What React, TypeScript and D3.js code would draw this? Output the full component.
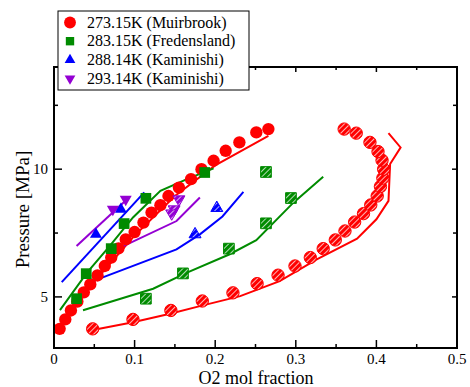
import React from "react";
import * as d3 from "d3";

// 273.15 K, Muirbrook
const muirLowPts: [number, number][] = [
  [0.007, 3.75], [0.014, 4.12], [0.021, 4.47], [0.029, 4.82], [0.037, 5.18],
  [0.045, 5.49], [0.054, 5.84], [0.063, 6.21], [0.071, 6.54], [0.08, 6.9],
  [0.089, 7.25], [0.1, 7.54], [0.111, 7.91], [0.121, 8.3], [0.132, 8.59],
  [0.142, 8.95], [0.155, 9.28], [0.17, 9.61], [0.183, 10.0], [0.198, 10.33],
  [0.213, 10.72], [0.23, 11.05], [0.251, 11.44], [0.266, 11.57],
];
const muirLowFit: [number, number][] = [
  [0.005, 3.7], [0.05, 5.6], [0.1, 7.4], [0.15, 8.95], [0.2, 10.15], [0.266, 11.3],
];
const muirHighPts: [number, number][] = [
  [0.048, 3.75], [0.098, 4.12], [0.145, 4.47], [0.184, 4.84], [0.222, 5.16],
  [0.252, 5.52], [0.278, 5.85], [0.299, 6.21], [0.318, 6.54], [0.334, 6.89],
  [0.349, 7.23], [0.361, 7.58], [0.373, 7.93], [0.384, 8.26], [0.393, 8.6],
  [0.401, 8.95], [0.405, 9.32], [0.408, 9.65], [0.409, 10.0], [0.407, 10.35],
  [0.402, 10.69], [0.392, 11.05], [0.375, 11.41], [0.36, 11.57],
];
const muirHighFit: [number, number][] = [
  [0.053, 3.73], [0.098, 4.01], [0.144, 4.34], [0.181, 4.64], [0.231, 5.03],
  [0.28, 5.62], [0.326, 6.47], [0.376, 7.28], [0.4, 8.04], [0.415, 8.76],
  [0.417, 10.2], [0.43, 10.85], [0.415, 11.41],
];

// 283.15 K, Fredensland
const fredLowPts: [number, number][] = [
  [0.028, 4.93], [0.04, 5.91], [0.071, 6.89], [0.087, 7.87], [0.114, 8.86], [0.187, 9.87],
];
const fredLowFit: [number, number][] = [
  [0.0074, 4.48], [0.041, 5.95], [0.069, 6.99], [0.098, 8.11], [0.132, 9.15],
  [0.165, 9.61], [0.198, 10.03],
];
const fredHighPts: [number, number][] = [
  [0.114, 4.93], [0.16, 5.92], [0.217, 6.89], [0.263, 7.88], [0.294, 8.87], [0.263, 9.89],
];
const fredHighFit: [number, number][] = [
  [0.036, 4.48], [0.123, 5.32], [0.165, 5.95], [0.218, 6.67], [0.251, 7.22],
  [0.297, 8.69], [0.334, 9.7],
];

// 288.14 K, Kaminishi
const kam288LowPts: [number, number][] = [[0.052, 7.45], [0.083, 8.43]];
const kam288LowFit: [number, number][] = [[0.0096, 5.58], [0.112, 9.09]];
const kam288HighPts: [number, number][] = [[0.175, 7.45], [0.202, 8.48]];
const kam288HighFit: [number, number][] = [
  [0.045, 5.58], [0.152, 6.86], [0.181, 7.45], [0.209, 8.15], [0.235, 9.11],
];

// 293.14 K, Kaminishi
const kam293LowPts: [number, number][] = [[0.073, 8.43], [0.089, 8.82]];
const kam293LowFit: [number, number][] = [[0.028, 6.99], [0.092, 8.86]];
const kam293HighPts: [number, number][] = [[0.155, 8.82], [0.149, 8.43], [0.146, 8.27]];
const kam293HighFit: [number, number][] = [[0.086, 6.99], [0.152, 7.97], [0.181, 8.89]];

const legendLabels = [
  "273.15K (Muirbrook)",
  "283.15K (Fredensland)",
  "288.14K (Kaminishi)",
  "293.14K (Kaminishi)",
];
const xTicks = [0, 0.1, 0.2, 0.3, 0.4, 0.5];
const xMinor = [0.05, 0.15, 0.25, 0.35, 0.45];
const yTicks = [5, 10];
const yMinor = [7.5, 12.5];

const RED = "#ff0000";
const GREEN = "#008b00";
const BLUE = "#0000ff";
const VIOLET = "#9400d3";

const W = 470;
const H = 387;
const left = 54, right = 457, top = 67, bottom = 348;

const x = d3.scaleLinear().domain([0, 0.5]).range([left, right]);
const y = d3.scaleLinear().domain([3, 14]).range([bottom, top]);
const line = d3.line<[number, number]>().x(d => x(d[0])).y(d => y(d[1]));

const circle = d3.symbol().type(d3.symbolCircle).size(120)()!;
const square = d3.symbol().type(d3.symbolSquare).size(115)()!;
const tri = d3.symbol().type(d3.symbolTriangle).size(62)()!;

type Series = {
  pts: [number, number][];
  fit: [number, number][];
  color: string;
  shape: string;
  rot: number;
  hatch: boolean;
  id: string;
};

const series: Series[] = [
  { pts: muirLowPts, fit: muirLowFit, color: RED, shape: circle, rot: 0, hatch: false, id: "r" },
  { pts: muirHighPts, fit: muirHighFit, color: RED, shape: circle, rot: 0, hatch: true, id: "r" },
  { pts: fredLowPts, fit: fredLowFit, color: GREEN, shape: square, rot: 0, hatch: false, id: "g" },
  { pts: fredHighPts, fit: fredHighFit, color: GREEN, shape: square, rot: 0, hatch: true, id: "g" },
  { pts: kam288LowPts, fit: kam288LowFit, color: BLUE, shape: tri, rot: 0, hatch: false, id: "b" },
  { pts: kam288HighPts, fit: kam288HighFit, color: BLUE, shape: tri, rot: 0, hatch: true, id: "b" },
  { pts: kam293LowPts, fit: kam293LowFit, color: VIOLET, shape: tri, rot: 180, hatch: false, id: "v" },
  { pts: kam293HighPts, fit: kam293HighFit, color: VIOLET, shape: tri, rot: 180, hatch: true, id: "v" },
];

const hatchColors: [string, string][] = [["r", RED], ["g", GREEN], ["b", BLUE], ["v", VIOLET]];
const legendMarks = [
  { color: RED, shape: d3.symbol().type(d3.symbolCircle).size(110)()!, rot: 0 },
  { color: GREEN, shape: d3.symbol().type(d3.symbolSquare).size(70)()!, rot: 0 },
  { color: BLUE, shape: d3.symbol().type(d3.symbolTriangle).size(50)()!, rot: 0 },
  { color: VIOLET, shape: d3.symbol().type(d3.symbolTriangle).size(50)()!, rot: 180 },
];

const font = "'Liberation Serif', 'DejaVu Serif', serif";

export default function App() {
  return (
    <svg width={W} height={H} style={{ position: "absolute", left: 0, top: 0, background: "#fff", fontFamily: font }}>
      <defs>
        {hatchColors.map(([id, c]) => (
          <pattern key={id} id={"hatch-" + id} width={4} height={4} patternUnits="userSpaceOnUse" patternTransform="rotate(45)">
            <rect width={4} height={4} fill={c} />
            <line x1={0} y1={0} x2={0} y2={4} stroke="#fff" strokeWidth={1.4} />
          </pattern>
        ))}
      </defs>

      {/* fits */}
      {series.map((s, i) => (
        <path key={"l" + i} d={line(s.fit)!} fill="none" stroke={s.color} strokeWidth={2} />
      ))}
      {/* markers */}
      {series.map((s, i) => (
        <g key={"m" + i}>
          {s.pts.map((p, j) => (
            <path
              key={j}
              d={s.shape}
              transform={`translate(${x(p[0])},${y(p[1])}) rotate(${s.rot})`}
              fill={s.hatch ? `url(#hatch-${s.id})` : s.color}
              stroke={s.color}
              strokeWidth={s.hatch ? 1 : 0}
            />
          ))}
        </g>
      ))}

      {/* frame */}
      <rect x={left} y={top} width={right - left} height={bottom - top} fill="none" stroke="#000" strokeWidth={2} />
      {xTicks.map(t => (
        <g key={"xt" + t}>
          <line x1={x(t)} x2={x(t)} y1={bottom} y2={bottom - 8} stroke="#000" strokeWidth={1.5} />
          <line x1={x(t)} x2={x(t)} y1={top} y2={top + 5} stroke="#000" strokeWidth={1.5} />
          <text x={x(t)} y={364} textAnchor="middle" fontSize={15}>{t === 0 ? "0" : String(t)}</text>
        </g>
      ))}
      {xMinor.map(t => (
        <g key={"xm" + t}>
          <line x1={x(t)} x2={x(t)} y1={bottom} y2={bottom - 4} stroke="#000" strokeWidth={1.5} />
          <line x1={x(t)} x2={x(t)} y1={top} y2={top + 3} stroke="#000" strokeWidth={1.5} />
        </g>
      ))}
      {yTicks.map(t => (
        <g key={"yt" + t}>
          <line x1={left} x2={left + 8} y1={y(t)} y2={y(t)} stroke="#000" strokeWidth={1.5} />
          <line x1={right} x2={right - 5} y1={y(t)} y2={y(t)} stroke="#000" strokeWidth={1.5} />
          <text x={48} y={y(t) + 5} textAnchor="end" fontSize={15}>{t}</text>
        </g>
      ))}
      {yMinor.map(t => (
        <g key={"ym" + t}>
          <line x1={left} x2={left + 4} y1={y(t)} y2={y(t)} stroke="#000" strokeWidth={1.5} />
          <line x1={right} x2={right - 4} y1={y(t)} y2={y(t)} stroke="#000" strokeWidth={1.5} />
        </g>
      ))}
      <text x={256} y={384} textAnchor="middle" fontSize={18}>O2 mol fraction</text>
      <text transform={`translate(29,${(top + bottom) / 2 + 2}) rotate(-90)`} textAnchor="middle" fontSize={19}>Pressure [MPa]</text>

      {/* legend */}
      <rect x={58} y={11} width={191} height={79} fill="#fff" stroke="#000" strokeWidth={1} />
      {legendLabels.map((lab, i) => {
        const cy = 22.5 + i * 18.7;
        const m = legendMarks[i];
        return (
          <g key={lab}>
            <path d={m.shape} transform={`translate(70,${cy}) rotate(${m.rot})`} fill={m.color} />
            <text x={87} y={cy + 5} fontSize={16}>{lab}</text>
          </g>
        );
      })}
    </svg>
  );
}
